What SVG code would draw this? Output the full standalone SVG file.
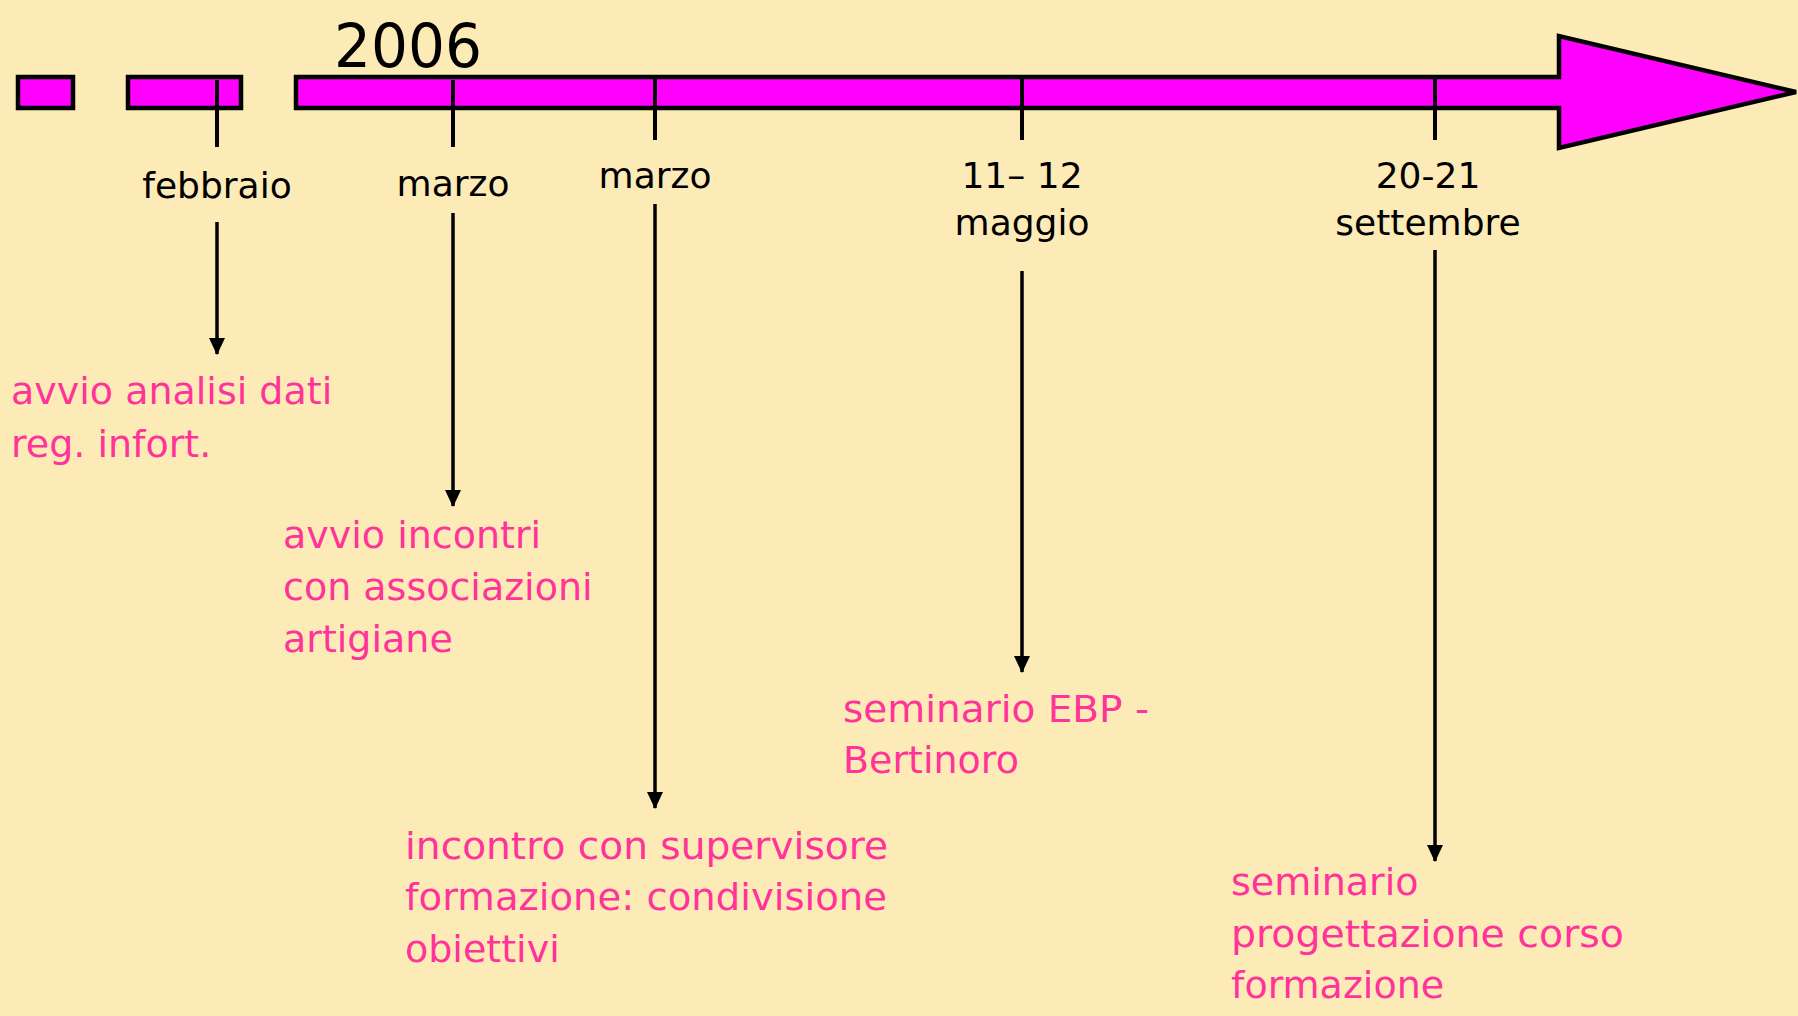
<svg xmlns="http://www.w3.org/2000/svg" width="1798" height="1016" viewBox="0 0 1798 1016">
<style>
.bg{fill:#FCEBB6}
.bar{fill:#FF00FF;stroke:#000;stroke-width:4.5;stroke-linejoin:miter}
.lbl{font-family:"DejaVu Sans",sans-serif;font-size:36px;fill:#000;text-anchor:middle}
.yr{font-family:"DejaVu Sans",sans-serif;font-size:61px;fill:#000}
.desc{font-family:"DejaVu Sans",sans-serif;font-size:38px;fill:#FF3399}
.tick{stroke:#000;stroke-width:4;fill:none}
.con{stroke:#000;stroke-width:3.5;fill:none;marker-end:url(#ah)}
</style>
<defs>
<marker id="ah" markerUnits="userSpaceOnUse" markerWidth="17" markerHeight="17" refX="16" refY="8" orient="auto">
<path d="M0,0 L17,8 L0,16 z" fill="#000"/>
</marker>
</defs>
<rect class="bg" x="0" y="0" width="1798" height="1016"/>
<g id="timeline">
<rect class="bar" x="18" y="77" width="55" height="31"/>
<rect class="bar" x="128" y="77" width="113" height="31"/>
<polygon class="bar" points="296,77 1559,77 1559,36 1796,92 1559,148 1559,108 296,108"/>
</g>
<g id="year"><text class="yr" x="334" y="67" textLength="148" lengthAdjust="spacingAndGlyphs">2006</text></g>
<g id="connectors">
<line class="tick" x1="217" y1="80" x2="217" y2="147"/>
<line class="tick" x1="453" y1="80" x2="453" y2="147"/>
<line class="tick" x1="655" y1="78" x2="655" y2="140"/>
<line class="tick" x1="1022" y1="78" x2="1022" y2="140"/>
<line class="tick" x1="1435" y1="78" x2="1435" y2="140"/>
<line class="con" x1="217" y1="222" x2="217" y2="354"/>
<line class="con" x1="453" y1="213" x2="453" y2="506"/>
<line class="con" x1="655" y1="204" x2="655" y2="808"/>
<line class="con" x1="1022" y1="271" x2="1022" y2="672"/>
<line class="con" x1="1435" y1="250" x2="1435" y2="861"/>
</g>
<g id="ev-febbraio">
<text class="lbl" x="217" y="198">febbraio</text>
<text class="desc" x="11" y="404">avvio analisi dati</text>
<text class="desc" x="11" y="457">reg. infort.</text>
</g>
<g id="ev-marzo1">
<text class="lbl" x="453" y="196">marzo</text>
<text class="desc" x="283" y="548">avvio incontri</text>
<text class="desc" x="283" y="600">con associazioni</text>
<text class="desc" x="283" y="652">artigiane</text>
</g>
<g id="ev-marzo2">
<text class="lbl" x="655" y="188">marzo</text>
<text class="desc" x="405" y="859" textLength="483" lengthAdjust="spacingAndGlyphs">incontro con supervisore</text>
<text class="desc" x="405" y="910" textLength="482" lengthAdjust="spacingAndGlyphs">formazione: condivisione</text>
<text class="desc" x="405" y="962">obiettivi</text>
</g>
<g id="ev-maggio">
<text class="lbl" x="1022" y="188">11– 12</text>
<text class="lbl" x="1022" y="235">maggio</text>
<text class="desc" x="843" y="722" textLength="306" lengthAdjust="spacingAndGlyphs">seminario EBP -</text>
<text class="desc" x="843" y="773">Bertinoro</text>
</g>
<g id="ev-settembre">
<text class="lbl" x="1428" y="188">20-21</text>
<text class="lbl" x="1428" y="235">settembre</text>
<text class="desc" x="1231" y="895">seminario</text>
<text class="desc" x="1231" y="947" textLength="393" lengthAdjust="spacingAndGlyphs">progettazione corso</text>
<text class="desc" x="1231" y="998">formazione</text>
</g>
</svg>
